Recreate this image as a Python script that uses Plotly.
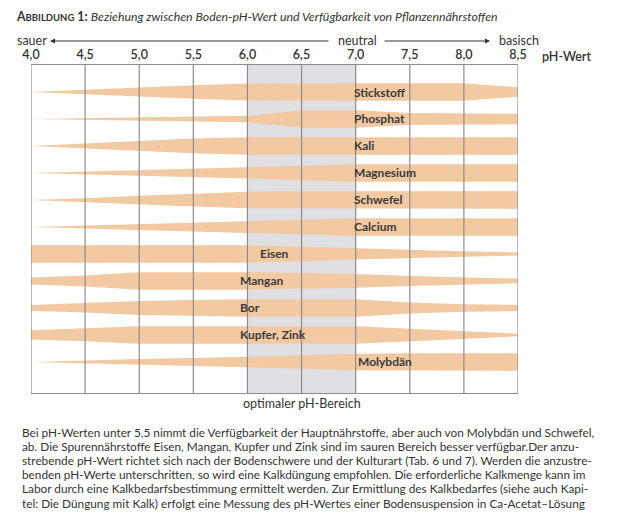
import plotly.graph_objects as go

# ---------------- data ----------------
ph_values = [4.0, 4.5, 5.0, 5.5, 6.0, 6.5, 7.0, 7.5, 8.0, 8.5]
ph_labels = ["4,0", "4,5", "5,0", "5,5", "6,0", "6,5", "7,0", "7,5", "8,0", "8,5"]

nutrients = ["Stickstoff", "Phosphat", "Kali", "Magnesium", "Schwefel", "Calcium",
             "Eisen", "Mangan", "Bor", "Kupfer, Zink", "Molybdän"]

# relative availability (1 = full band width) at each pH value
stickstoff = [0.0, 0.27, 0.53, 0.76, 0.97, 1.0, 1.0, 1.0, 1.0, 0.53]
phosphat   = [0.0, 0.11, 0.20, 0.28, 0.36, 1.0, 1.0, 0.68, 0.62, 0.60]
kali       = [0.0, 0.27, 0.57, 0.84, 1.0, 1.0, 1.0, 1.0, 1.0, 1.0]
magnesium  = [0.0, 0.17, 0.35, 0.50, 0.63, 0.80, 1.0, 1.0, 1.0, 1.0]
schwefel   = [0.0, 0.19, 0.48, 0.73, 0.95, 1.0, 1.0, 1.0, 1.0, 1.0]
calcium    = [0.0, 0.17, 0.34, 0.51, 0.67, 0.85, 1.0, 1.0, 1.0, 1.0]
eisen      = [1.0, 1.0, 1.0, 1.0, 1.0, 0.82, 0.63, 0.44, 0.31, 0.18]
mangan     = [0.40, 0.62, 1.0, 1.0, 1.0, 0.90, 0.78, 0.57, 0.38, 0.27]
bor        = [0.33, 0.53, 0.80, 0.90, 1.0, 1.0, 1.0, 0.62, 0.42, 0.36]
kupfer_zink = [0.53, 0.73, 1.0, 1.0, 1.0, 1.0, 1.0, 0.70, 0.41, 0.15]
molybdaen  = [0.0, 0.19, 0.33, 0.44, 0.61, 0.77, 0.94, 1.0, 1.0, 1.0]

series = [stickstoff, phosphat, kali, magnesium, schwefel, calcium,
          eisen, mangan, bor, kupfer_zink, molybdaen]

optimal_range = [6.0, 7.0]

body_lines = [
    "Bei pH-Werten unter 5,5 nimmt die Verfügbarkeit der Hauptnährstoffe, aber auch von Molybdän und Schwefel,",
    "ab. Die Spurennährstoffe Eisen, Mangan, Kupfer und Zink sind im sauren Bereich besser verfügbar.Der anzu-",
    "strebende pH-Wert richtet sich nach der Bodenschwere und der Kulturart (Tab. 6 und 7). Werden die anzustre-",
    "benden pH-Werte unterschritten, so wird eine Kalkdüngung empfohlen. Die erforderliche Kalkmenge kann im",
    "Labor durch eine Kalkbedarfsbestimmung ermittelt werden. Zur Ermittlung des Kalkbedarfes (siehe auch Kapi-",
    "tel: Die Düngung mit Kalk) erfolgt eine Messung des pH-Wertes einer Bodensuspension in Ca-Acetat–Lösung",
]

# ---------------- style ----------------
FONT = "Lato, 'Open Sans', sans-serif"
TXT = "#333333"
BAND = "#f2c9a1"
SHADE = "#dfe0e3"
GRID = "#8c8c8c"
HALF = 0.325  # half band width (row units) for availability 1

OFF = 8  # page body margin
W, H = 619, 509
# plot area in screen pixels: x 31..518, y 65..393
ML = 31 - OFF
MR = W - (518 - OFF)
MT = 65 - OFF
MB = H - (393 - OFF)
PW, PH = W - ML - MR, H - MT - MB


def px(xs):
    return (xs - OFF - ML) / PW


def py(ys):
    return (H - MB - (ys - OFF)) / PH


fig = go.Figure()

for i, (name, vals) in enumerate(zip(nutrients, series)):
    upper = [i - HALF * v for v in vals]
    lower = [i + HALF * v for v in vals]
    fig.add_trace(go.Scatter(
        x=ph_values + ph_values[::-1],
        y=upper + lower[::-1],
        fill="toself", fillcolor=BAND, mode="lines",
        line=dict(width=0, color=BAND), hoverinfo="skip", showlegend=False,
    ))

label_x = {"Eisen": 6.1, "Mangan": 5.91, "Bor": 5.91, "Kupfer, Zink": 5.91, "Molybdän": 7.0}
annotations = []
for i, name in enumerate(nutrients):
    annotations.append(dict(
        x=label_x.get(name, 6.97), y=i, xref="x", yref="y", text=name,
        showarrow=False, xanchor="left", yanchor="middle",
        font=dict(family=FONT, size=12, color="#3a3a3a", weight=700),
    ))

shapes = [dict(type="rect", xref="x", yref="paper", x0=optimal_range[0], x1=optimal_range[1],
               y0=0, y1=1, fillcolor=SHADE, line=dict(width=0), layer="below")]
for v in ph_values:
    shapes.append(dict(type="line", xref="x", yref="paper", x0=v, x1=v, y0=0, y1=1,
                       line=dict(color=GRID, width=1.2), layer="above"))

# title
annotations.append(dict(
    x=px(15), y=py(8), xref="paper", yref="paper", xanchor="left", yanchor="top",
    showarrow=False, borderpad=0,
    text="<b>A<span style='font-size:9.5px'>BBILDUNG</span> 1:</b> <i>Beziehung zwischen Boden-pH-Wert und Verfügbarkeit von Pflanzennährstoffen</i>",
    font=dict(family=FONT, size=12.3, color=TXT),
))

# acid / neutral / basic row
annotations += [
    dict(x=px(15), y=py(40), xref="paper", yref="paper", xanchor="left", yanchor="middle",
         showarrow=False, text="sauer", font=dict(family=FONT, size=12.5, color=TXT)),
    dict(x=px(357), y=py(40), xref="paper", yref="paper", xanchor="center", yanchor="middle",
         showarrow=False, text="neutral", font=dict(family=FONT, size=12.5, color=TXT)),
    dict(x=px(497), y=py(40), xref="paper", yref="paper", xanchor="left", yanchor="middle",
         showarrow=False, text="basisch", font=dict(family=FONT, size=12.5, color=TXT)),
    dict(x=px(50), y=py(41), xref="paper", yref="paper", ax=280, ay=0, text="",
         showarrow=True, arrowhead=2, arrowsize=1, arrowwidth=1, arrowcolor="#333333"),
    dict(x=px(490), y=py(41), xref="paper", yref="paper", ax=-107, ay=0, text="",
         showarrow=True, arrowhead=2, arrowsize=1, arrowwidth=1, arrowcolor="#333333"),
    dict(x=px(540), y=py(56), xref="paper", yref="paper", xanchor="left", yanchor="middle",
         showarrow=False, text="pH-Wert", font=dict(family=FONT, size=12.5, color=TXT, weight=600)),
    dict(x=(optimal_range[0] + optimal_range[1]) / 2, y=py(403), xref="x", yref="paper",
         xanchor="center", yanchor="middle", showarrow=False, text="optimaler pH-Bereich",
         font=dict(family=FONT, size=12.5, color=TXT)),
]

for k, line in enumerate(body_lines):
    annotations.append(dict(
        x=px(20), y=py(432 + 14.2 * k), xref="paper", yref="paper", xanchor="left",
        yanchor="middle", showarrow=False, text=line,
        font=dict(family=FONT, size=11.8, color=TXT),
    ))

fig.update_layout(
    width=W, height=H, margin=dict(l=ML, r=MR, t=MT, b=MB, autoexpand=False),
    paper_bgcolor="white", plot_bgcolor="white",
    shapes=shapes, annotations=annotations,
    xaxis=dict(range=[ph_values[0], ph_values[-1]], side="top", tickvals=ph_values,
               ticktext=ph_labels, showgrid=False, zeroline=False, showline=True,
               mirror=True, linecolor=GRID, linewidth=1.2, ticks="", automargin=False,
               tickfont=dict(family=FONT, size=12.5, color=TXT, weight=600)),
    yaxis=dict(range=[11.15, -1], showgrid=False, zeroline=False, showticklabels=False,
               showline=False, automargin=False),
)

fig.write_html("out.html")
